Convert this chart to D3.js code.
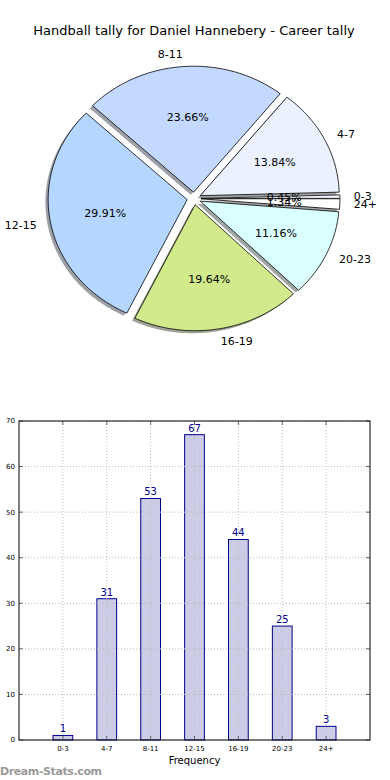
<!DOCTYPE html>
<html><head><meta charset="utf-8">
<script src="https://cdn.jsdelivr.net/npm/d3@7/dist/d3.min.js"></script>
<style>body{margin:0;background:#fff}svg{display:block;font-family:"DejaVu Sans",sans-serif}</style>
</head><body><svg id="c" width="390" height="780"></svg>
<script>
const title = "Handball tally for Daniel Hannebery - Career tally";
const categories = ["0-3","4-7","8-11","12-15","16-19","20-23","24+"];
const counts = [1,31,53,67,44,25,3];
const pieColors = ["#EEF2FF","#EBF1FF","#C4D9FF","#B5D7FF","#D1EA8C","#DAFFFF","#FFFFFF"];
const yTicks = [0,10,20,30,40,50,60,70];
const xLabel = "Frequency";
const watermark = "Dream-Stats.com";

const svg = d3.select("#c");
svg.append("text").attr("x",194).attr("y",35).attr("text-anchor","middle")
  .attr("font-size",13).attr("fill","#000").text(title);

// ---- Pie (elliptical, matplotlib style, ccw from 3 o'clock) ----
const cx=194, cy=198.5, rx=139, ry=126, explode=0.05, sh=0.02;
const total = d3.sum(counts);
const arcs = d3.pie().sort(null).startAngle(0).endAngle(2*Math.PI)(counts);
function pt(ox,oy,t,k){return [ox+k*rx*Math.cos(t), oy-k*ry*Math.sin(t)];}
function slicePath(ox,oy,a0,a1){
  const p=d3.path(); p.moveTo(ox,oy);
  const s=pt(ox,oy,a0,1); p.lineTo(s[0],s[1]);
  const n=Math.max(4,Math.ceil((a1-a0)/0.02));
  for(let i=1;i<=n;i++){const q=pt(ox,oy,a0+(a1-a0)*i/n,1);p.lineTo(q[0],q[1]);}
  p.closePath(); return p.toString();
}
const pieG = svg.append("g");
arcs.forEach((a,i)=>{
  const mid=(a.startAngle+a.endAngle)/2;
  const ox=cx+explode*rx*Math.cos(mid), oy=cy-explode*ry*Math.sin(mid);
  const c=d3.rgb(pieColors[i]);
  pieG.append("path").attr("d",slicePath(ox-sh*rx,oy+sh*ry,a.startAngle,a.endAngle))
    .attr("fill",d3.rgb(c.r*0.3,c.g*0.3,c.b*0.3)).attr("fill-opacity",0.5).attr("stroke","none");
});
arcs.forEach((a,i)=>{
  const mid=(a.startAngle+a.endAngle)/2;
  const ox=cx+explode*rx*Math.cos(mid), oy=cy-explode*ry*Math.sin(mid);
  pieG.append("path").attr("d",slicePath(ox,oy,a.startAngle,a.endAngle))
    .attr("fill",pieColors[i]).attr("stroke","#000").attr("stroke-width",0.8).attr("stroke-linejoin","round");
});
arcs.forEach((a,i)=>{
  const mid=(a.startAngle+a.endAngle)/2;
  const ox=cx+explode*rx*Math.cos(mid), oy=cy-explode*ry*Math.sin(mid);
  const l=pt(ox,oy,mid,1.1);
  pieG.append("text").attr("x",l[0]).attr("y",l[1]).attr("dy","0.35em")
    .attr("text-anchor",Math.cos(mid)<0?"end":"start").attr("font-size",11).text(categories[i]);
  const p=pt(ox,oy,mid,0.6);
  pieG.append("text").attr("x",p[0]).attr("y",p[1]).attr("dy","0.35em")
    .attr("text-anchor","middle").attr("font-size",11)
    .text((100*a.value/total).toFixed(2)+"%");
});

// ---- Bar chart ----
const L=19,R=370,T=421,B=740;
const x=d3.scaleLinear().domain([0,categories.length+1]).range([L,R]);
const y=d3.scaleLinear().domain([0,70]).range([B,T]);
const bw=x(0.45)-x(0);
const bg=svg.append("g");
bg.selectAll("rect.bar").data(counts).join("rect").attr("class","bar")
  .attr("x",(d,i)=>x(i+1)-bw/2).attr("width",bw)
  .attr("y",d=>y(d)).attr("height",d=>y(0)-y(d))
  .attr("fill","#CCCCE6").attr("stroke","#00008B").attr("stroke-width",1);
// grid
bg.selectAll("line.gy").data(yTicks).join("line").attr("x1",L).attr("x2",R)
  .attr("y1",d=>y(d)).attr("y2",d=>y(d)).attr("stroke","#bbb").attr("stroke-dasharray","1,2");
bg.selectAll("line.gx").data(categories).join("line").attr("y1",T).attr("y2",B)
  .attr("x1",(d,i)=>x(i+1)).attr("x2",(d,i)=>x(i+1)).attr("stroke","#bbb").attr("stroke-dasharray","1,2");
// ticks
bg.selectAll("line.ty").data(yTicks).join("line").attr("x1",L).attr("x2",L+4)
  .attr("y1",d=>y(d)).attr("y2",d=>y(d)).attr("stroke","#666");
bg.selectAll("line.ty2").data(yTicks).join("line").attr("x1",R-4).attr("x2",R)
  .attr("y1",d=>y(d)).attr("y2",d=>y(d)).attr("stroke","#666");
bg.selectAll("line.tx").data(categories).join("line").attr("y1",B).attr("y2",B-4)
  .attr("x1",(d,i)=>x(i+1)).attr("x2",(d,i)=>x(i+1)).attr("stroke","#666");
bg.selectAll("line.tx2").data(categories).join("line").attr("y1",T).attr("y2",T+4)
  .attr("x1",(d,i)=>x(i+1)).attr("x2",(d,i)=>x(i+1)).attr("stroke","#666");
// frame
bg.append("rect").attr("x",L).attr("y",T).attr("width",R-L).attr("height",B-T)
  .attr("fill","none").attr("stroke","#000").attr("stroke-width",1);
// tick labels
bg.selectAll("text.yl").data(yTicks).join("text").attr("x",L-4).attr("y",d=>y(d)).attr("dy","0.35em")
  .attr("text-anchor","end").attr("font-size",7).text(d=>d);
bg.selectAll("text.xl").data(categories).join("text").attr("x",(d,i)=>x(i+1)).attr("y",B+11)
  .attr("text-anchor","middle").attr("font-size",7).text(d=>d);
// value labels
bg.selectAll("text.vl").data(counts).join("text").attr("x",(d,i)=>x(i+1)).attr("y",d=>y(d)-3)
  .attr("text-anchor","middle").attr("font-size",10).attr("fill","#00008B").text(d=>d);
bg.append("text").attr("x",(L+R)/2).attr("y",764).attr("text-anchor","middle")
  .attr("font-size",10).text(xLabel);
svg.append("text").attr("x",0).attr("y",775).attr("font-size",11).attr("font-weight",600)
  .attr("fill","#999").attr("textLength",102).text(watermark);
</script></body></html>
